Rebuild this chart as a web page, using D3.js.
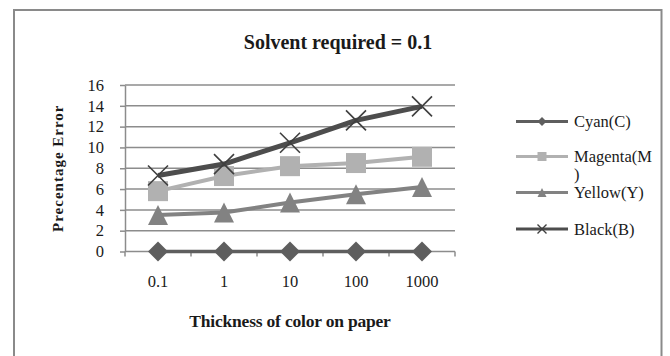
<!DOCTYPE html>
<html>
<head>
<meta charset="utf-8">
<script src="https://cdn.jsdelivr.net/npm/d3@7"></script>
<style>
  html, body { margin: 0; padding: 0; background: #fff; }
  svg { display: block; }
  text { font-family: "Liberation Serif", "DejaVu Serif", serif; fill: #1a1a1a; }
</style>
</head>
<body>
<svg id="chart" width="670" height="356"></svg>
<script>
// Chart data
const categories = ["0.1", "1", "10", "100", "1000"];
const cyan    = [0, 0, 0, 0, 0];
const magenta = [5.8, 7.25, 8.2, 8.5, 9.1];
const yellow  = [3.5, 3.75, 4.7, 5.5, 6.2];
const black   = [7.3, 8.4, 10.45, 12.6, 13.95];
const yTicks  = [0, 2, 4, 6, 8, 10, 12, 14, 16];
const seriesNames = ["Cyan(C)", "Magenta(M", "Yellow(Y)", "Black(B)"];

const series = [
  { name: seriesNames[0], values: cyan,    color: "#5e5e5e", width: 3.5, marker: "diamond" },
  { name: seriesNames[1], values: magenta, color: "#b1b1b1", width: 4,   marker: "square" },
  { name: seriesNames[2], values: yellow,  color: "#828282", width: 4,   marker: "triangle" },
  { name: seriesNames[3], values: black,   color: "#4d4d4d", width: 5,   marker: "x" }
];

const svg = d3.select("#chart");

// outer chart frame
svg.append("rect")
  .attr("x", 14).attr("y", 10)
  .attr("width", 647.5).attr("height", 360)
  .attr("fill", "none").attr("stroke", "#8a8a8a").attr("stroke-width", 2);

const plot = { left: 125, right: 455, top: 85, bottom: 251.5 };

const x = d3.scaleBand().domain(categories).range([plot.left, plot.right]).padding(0);
const y = d3.scaleLinear().domain([0, 16]).range([plot.bottom, plot.top]);
const cx = c => x(c) + x.bandwidth() / 2;

// horizontal gridlines
svg.append("g")
  .selectAll("line")
  .data(yTicks.filter(t => t > 0))
  .join("line")
  .attr("x1", plot.left).attr("x2", plot.right)
  .attr("y1", d => y(d)).attr("y2", d => y(d))
  .attr("stroke", "#8c8c8c").attr("stroke-width", 1.5);

// y axis
const yAxis = svg.append("g")
  .attr("transform", `translate(${plot.left},0)`)
  .call(d3.axisLeft(y).tickValues(yTicks).tickSize(5).tickPadding(16).tickSizeOuter(0));
yAxis.select(".domain").attr("stroke", "#8c8c8c").attr("stroke-width", 1.5);
yAxis.selectAll(".tick line").attr("stroke", "#8c8c8c").attr("stroke-width", 1.5);
yAxis.selectAll(".tick text")
  .attr("font-family", "Liberation Serif, serif")
  .attr("font-size", 16.5).attr("fill", "#222");

// x axis with ticks between categories
const xAxis = svg.append("g")
  .attr("transform", `translate(0,${plot.bottom})`);
xAxis.append("line")
  .attr("x1", plot.left).attr("x2", plot.right)
  .attr("stroke", "#8c8c8c").attr("stroke-width", 1.5);
const boundaries = categories.map(c => x(c)).concat([plot.right]);
xAxis.selectAll("line.tk")
  .data(boundaries)
  .join("line").attr("class", "tk")
  .attr("x1", d => d).attr("x2", d => d)
  .attr("y1", 0).attr("y2", 5)
  .attr("stroke", "#8c8c8c").attr("stroke-width", 1.5);
xAxis.selectAll("text")
  .data(categories)
  .join("text")
  .attr("x", d => cx(d)).attr("y", 35)
  .attr("text-anchor", "middle")
  .attr("font-size", 16.5).attr("fill", "#222")
  .text(d => d);

// markers
function markerPath(type, size) {
  const h = size / 2;
  switch (type) {
    case "diamond":  return `M0,${-h}L${h},0L0,${h}L${-h},0Z`;
    case "square":   return `M${-h},${-h}H${h}V${h}H${-h}Z`;
    case "triangle": return `M0,${-h}L${h},${h}L${-h},${h}Z`;
    case "x":        return `M${-h},${-h}L${h},${h}M${h},${-h}L${-h},${h}`;
  }
}

const line = d3.line().x((d, i) => cx(categories[i])).y(d => y(d));

series.forEach(s => {
  const g = svg.append("g");
  g.append("path")
    .attr("d", line(s.values))
    .attr("fill", "none")
    .attr("stroke", s.color)
    .attr("stroke-width", s.width)
    .attr("stroke-linejoin", "round");
  g.selectAll("path.m")
    .data(s.values)
    .join("path").attr("class", "m")
    .attr("transform", (d, i) => `translate(${cx(categories[i])},${y(d)})`)
    .attr("d", markerPath(s.marker, 20))
    .attr("fill", s.marker === "x" ? "none" : s.color)
    .attr("stroke", s.marker === "x" ? "#3f3f3f" : "none")
    .attr("stroke-width", 1.6);
});

// title
svg.append("text")
  .attr("x", 338).attr("y", 49)
  .attr("text-anchor", "middle")
  .attr("font-size", 20).attr("font-weight", "bold")
  .text("Solvent required = 0.1");

// axis titles
svg.append("text")
  .attr("x", (plot.left + plot.right) / 2).attr("y", 327)
  .attr("text-anchor", "middle")
  .attr("font-size", 17.5).attr("font-weight", "bold")
  .attr("letter-spacing", -0.2)
  .text("Thickness of color on paper");

svg.append("text")
  .attr("transform", `translate(63,${(plot.top + plot.bottom) / 2}) rotate(-90)`)
  .attr("text-anchor", "middle")
  .attr("font-size", 15).attr("font-weight", "bold")
  .attr("letter-spacing", 1)
  .text("Precentage Error");

// legend
const legendRows = [121.5, 156.5, 192.5, 229];
const legend = svg.append("g");
series.forEach((s, i) => {
  const ly = legendRows[i];
  legend.append("line")
    .attr("x1", 516).attr("x2", 568)
    .attr("y1", ly).attr("y2", ly)
    .attr("stroke", s.color).attr("stroke-width", 3);
  legend.append("path")
    .attr("transform", `translate(542,${ly})`)
    .attr("d", markerPath(s.marker, 9))
    .attr("fill", s.marker === "x" ? "none" : s.color)
    .attr("stroke", s.marker === "x" ? "#3f3f3f" : "none")
    .attr("stroke-width", 1.4);
  legend.append("text")
    .attr("x", 574).attr("y", ly + 5.5)
    .attr("font-size", 16.5).attr("fill", "#222")
    .text(s.name);
});
legend.append("text")
  .attr("x", 574).attr("y", 180)
  .attr("font-size", 16.5).attr("fill", "#222")
  .text(")");
</script>
</body>
</html>
